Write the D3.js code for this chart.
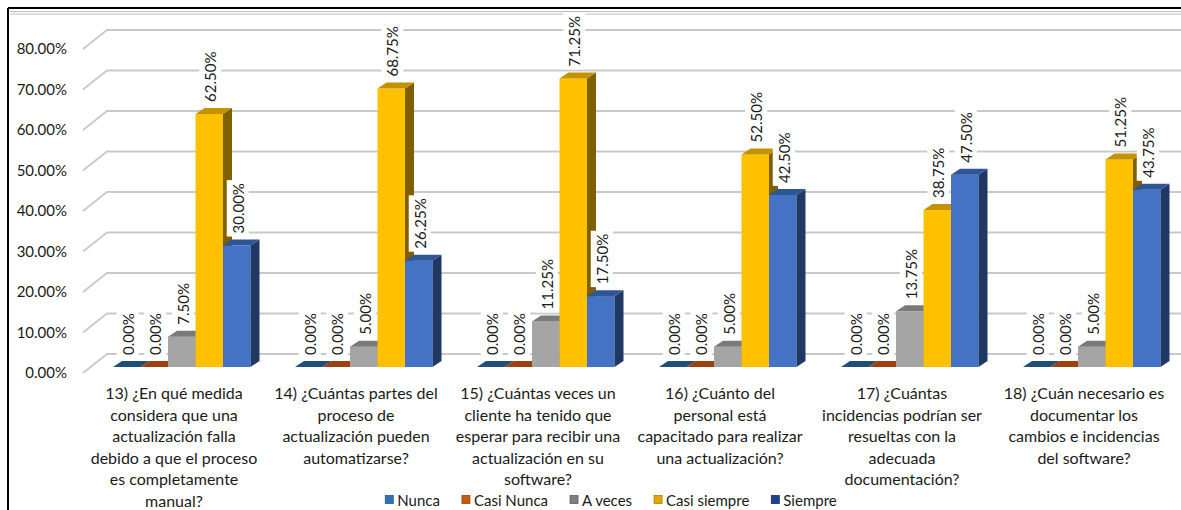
<!DOCTYPE html>
<html>
<head>
<meta charset="utf-8">
<script src="https://cdn.jsdelivr.net/npm/d3@7"></script>
<style>
  body { margin: 0; background: #fff; }
  svg { display: block; font-family: Lato, "Open Sans", sans-serif; }
</style>
</head>
<body>
<svg id="chart" width="1181" height="510"></svg>
<script>
// ====================
// DATA
// ====================
const categories = ['13', '14', '15', '16', '17', '18'];
const categoryLines = [
  ['13) ¿En qué medida', 'considera que una', 'actualización falla', 'debido a que el proceso', 'es completamente', 'manual?'],
  ['14) ¿Cuántas partes del', 'proceso de', 'actualización pueden', 'automatizarse?'],
  ['15) ¿Cuántas veces un', 'cliente ha tenido que', 'esperar para recibir una', 'actualización en su', 'software?'],
  ['16) ¿Cuánto del', 'personal está', 'capacitado para realizar', 'una actualización?'],
  ['17) ¿Cuántas', 'incidencias podrían ser', 'resueltas con la', 'adecuada', 'documentación?'],
  ['18) ¿Cuán necesario es', 'documentar los', 'cambios e incidencias', 'del software?']
];
const seriesNames = ['Nunca', 'Casi Nunca', 'A veces', 'Casi siempre', 'Siempre'];
const nunca = [0, 0, 0, 0, 0, 0];
const casiNunca = [0, 0, 0, 0, 0, 0];
const aVeces = [7.5, 5, 11.25, 5, 13.75, 5];
const casiSiempre = [62.5, 68.75, 71.25, 52.5, 38.75, 51.25];
const siempre = [30, 26.25, 17.5, 42.5, 47.5, 43.75];
const yTicks = [0, 10, 20, 30, 40, 50, 60, 70, 80];

const seriesValues = [nunca, casiNunca, aVeces, casiSiempre, siempre];

// colours: front, top, side, legend
const colors = {
  'Nunca':        { front: '#2E75B6', top: '#1F4E79', side: '#1A3F63', legend: '#2E75B6' },
  'Casi Nunca':   { front: '#C55A11', top: '#9C420F', side: '#7A330B', legend: '#C55A11' },
  'A veces':      { front: '#A5A5A5', top: '#7A7A7A', side: '#5E5E5E', legend: '#7F7F7F' },
  'Casi siempre': { front: '#FFC000', top: '#C39200', side: '#7F6000', legend: '#E6A800' },
  'Siempre':      { front: '#4472C4', top: '#2F5597', side: '#1F3864', legend: '#203F8C' }
};

// ====================
// SETUP
// ====================
const width = 1181;
const height = 510;
const floorLeft = 83;
const floorRight = floorLeft + 6 * 182;
const depthX = 24, depthY = -19;       // floor / back wall offset
const barShiftX = 7.75, barShiftY = -6; // where bar fronts sit on the floor
const barDX = 9, barDY = -6;            // bar depth

const svg = d3.select('#chart');

const x = d3.scaleBand()
  .domain(categories)
  .range([floorLeft, floorRight])
  .paddingInner(0.2445)
  .paddingOuter(0.12225);

const xs = d3.scaleBand()
  .domain(seriesNames)
  .range([0, x.bandwidth()]);

const y = d3.scaleLinear()
  .domain([0, 80])
  .range([373, 49]);

// ====================
// FRAME
// ====================
svg.append('line').attr('x1', 8).attr('x2', width).attr('y1', 8).attr('y2', 8)
  .attr('stroke', '#000').attr('stroke-width', 2);
svg.append('line').attr('x1', 8).attr('x2', 8).attr('y1', 8).attr('y2', height)
  .attr('stroke', '#000').attr('stroke-width', 2);
[11.5, 14].forEach(yy => {
  svg.append('line').attr('x1', 10).attr('x2', width).attr('y1', yy).attr('y2', yy)
    .attr('stroke', '#bdbdbd').attr('stroke-width', 1);
});

// ====================
// GRIDLINES (back wall + side diagonal)
// ====================
svg.append('g')
  .selectAll('path')
  .data(yTicks)
  .join('path')
  .attr('d', t => `M${floorLeft},${y(t)} L${floorLeft + depthX},${y(t) + depthY} L${width},${y(t) + depthY}`)
  .attr('fill', 'none')
  .attr('stroke', '#c9c9c9')
  .attr('stroke-width', 1.8);

// Y axis labels
const yAxis = svg.append('g')
  .attr('transform', `translate(${floorLeft},0)`)
  .call(d3.axisLeft(y).tickValues(yTicks).tickSize(0).tickPadding(16)
    .tickFormat(d => d3.format('.2f')(d) + '%'));
yAxis.select('.domain').remove();
yAxis.selectAll('text')
  .attr('font-family', 'Lato, "Open Sans", sans-serif')
  .attr('font-size', 15)
  .attr('fill', '#1a1a1a');

// ====================
// BARS
// ====================
const bars = [];
categories.forEach((c, i) => {
  seriesNames.forEach((s, j) => {
    const v = seriesValues[j][i];
    const fx = x(c) + barShiftX + xs(s);
    const fy0 = y(0) + barShiftY;
    const fyTop = y(v) + barShiftY;
    bars.push({ c, s, v, fx, fy0, fyTop, w: xs.bandwidth() });
  });
});

const barG = svg.append('g');
bars.forEach(b => {
  const g = barG.append('g');
  const col = colors[b.s];
  if (b.v > 0) {
    g.append('rect')
      .attr('x', b.fx).attr('y', b.fyTop)
      .attr('width', b.w).attr('height', b.fy0 - b.fyTop)
      .attr('fill', col.front);
    g.append('path')
      .attr('d', `M${b.fx + b.w},${b.fyTop} L${b.fx + b.w + barDX},${b.fyTop + barDY} L${b.fx + b.w + barDX},${b.fy0 + barDY} L${b.fx + b.w},${b.fy0} Z`)
      .attr('fill', col.side);
  }
  g.append('path')
    .attr('d', `M${b.fx},${b.fyTop} L${b.fx + b.w},${b.fyTop} L${b.fx + b.w + barDX},${b.fyTop + barDY} L${b.fx + barDX},${b.fyTop + barDY} Z`)
    .attr('fill', col.top);
});

// ====================
// DATA LABELS
// ====================
const labelG = svg.append('g');
bars.forEach(b => {
  const g = labelG.append('g')
    .attr('transform', `translate(${b.fx + b.w / 2 + 1},${b.fyTop + barDY - 6}) rotate(-90)`);
  const bg = g.append('rect').attr('fill', '#fff');
  const t = g.append('text')
    .attr('x', 0).attr('y', 0)
    .attr('dominant-baseline', 'central')
    .attr('font-size', 15)
    .attr('fill', '#1a1a1a')
    .text(d3.format('.2f')(b.v) + '%');
  const bb = t.node().getBBox();
  bg.attr('x', bb.x - 3).attr('y', bb.y - 2)
    .attr('width', bb.width + 6).attr('height', bb.height + 4);
});

// ====================
// CATEGORY LABELS
// ====================
svg.append('g')
  .selectAll('text')
  .data(categories)
  .join('text')
  .attr('text-anchor', 'middle')
  .attr('font-size', 16)
  .attr('fill', '#1a1a1a')
  .each(function(c, i) {
    const cx = x(c) + x.bandwidth() / 2;
    d3.select(this).selectAll('tspan')
      .data(categoryLines[i])
      .join('tspan')
      .attr('x', cx)
      .attr('y', (d, k) => 399 + k * 21.5)
      .text(d => d);
  });

// ====================
// LEGEND
// ====================
const legend = svg.append('g');
let lx = 0;
seriesNames.forEach(s => {
  const g = legend.append('g').attr('transform', `translate(${lx},0)`);
  g.append('rect')
    .attr('x', 0).attr('y', -4.5).attr('width', 8).attr('height', 8)
    .attr('fill', colors[s].legend)
    .attr('stroke', d3.color(colors[s].legend).darker(0.8))
    .attr('stroke-width', 0.8);
  const t = g.append('text')
    .attr('x', 12).attr('y', 0)
    .attr('dominant-baseline', 'central')
    .attr('font-size', 15)
    .attr('fill', '#1a1a1a')
    .text(s);
  lx += 12 + t.node().getComputedTextLength() + 22;
});
const legendWidth = lx - 22;
legend.attr('transform', `translate(${611 - legendWidth / 2},500)`);
</script>
</body>
</html>
